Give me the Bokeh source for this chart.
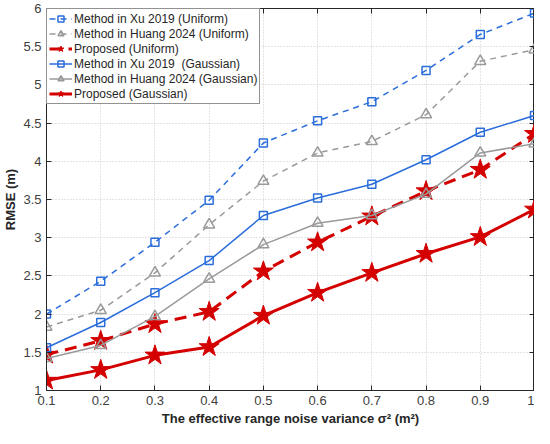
from bokeh.plotting import figure
from bokeh.models import (FixedTicker, LinearAxis, Legend, LegendItem, Range1d)
from bokeh.embed import file_html
from bokeh.resources import INLINE

# ---- data ----
variance = [0.1, 0.2, 0.3, 0.4, 0.5, 0.6, 0.7, 0.8, 0.9, 1.0]
xu_uniform = [2.00, 2.43, 2.94, 3.49, 4.24, 4.53, 4.78, 5.19, 5.66, 5.94]
huang_uniform = [1.83, 2.05, 2.54, 3.17, 3.74, 4.11, 4.26, 4.61, 5.31, 5.46]
prop_uniform = [1.47, 1.65, 1.87, 2.03, 2.56, 2.94, 3.28, 3.61, 3.89, 4.36]
xu_gauss = [1.56, 1.89, 2.28, 2.70, 3.29, 3.52, 3.70, 4.02, 4.38, 4.60]
huang_gauss = [1.42, 1.59, 1.97, 2.46, 2.91, 3.19, 3.29, 3.57, 4.11, 4.23]
prop_gauss = [1.13, 1.27, 1.46, 1.57, 1.98, 2.28, 2.54, 2.79, 3.01, 3.37]

x_ticks = [0.1, 0.2, 0.3, 0.4, 0.5, 0.6, 0.7, 0.8, 0.9, 1.0]
x_tick_labels = ["0.1", "0.2", "0.3", "0.4", "0.5", "0.6", "0.7", "0.8", "0.9", "1"]
y_ticks = [1, 1.5, 2, 2.5, 3, 3.5, 4, 4.5, 5, 5.5, 6]
y_tick_labels = ["1", "1.5", "2", "2.5", "3", "3.5", "4", "4.5", "5", "5.5", "6"]

legend_labels = ["Method in Xu 2019 (Uniform)", "Method in Huang 2024 (Uniform)",
                 "Proposed (Uniform)", "Method in Xu 2019  (Gaussian)",
                 "Method in Huang 2024 (Gaussian)", "Proposed (Gaussian)"]

BLUE = "#2a6ddb"
GRAY = "#9a9a9a"
RED = "#d40000"
TXT = "#262626"
FONT = "Liberation Sans"

p = figure(width=534, height=428, output_backend="svg", toolbar_location=None,
           x_range=Range1d(0.1, 1.0), y_range=Range1d(1, 6),
           min_border_left=0, min_border_right=0, min_border_top=8, min_border_bottom=0)
p.background_fill_color = "white"
p.border_fill_color = "white"
p.outline_line_color = TXT
p.outline_line_width = 1

xtick_over = {t: l for t, l in zip(x_ticks, x_tick_labels)}
ytick_over = {t: l for t, l in zip(y_ticks, y_tick_labels)}

for ax in p.xaxis:
    ax.ticker = FixedTicker(ticks=x_ticks)
    ax.major_label_overrides = xtick_over
for ax in p.yaxis:
    ax.ticker = FixedTicker(ticks=y_ticks)
    ax.major_label_overrides = ytick_over

for ax in list(p.xaxis) + list(p.yaxis):
    ax.major_tick_in = 5
    ax.major_tick_out = 0
    ax.minor_tick_in = 0
    ax.minor_tick_out = 0
    ax.axis_line_color = TXT
    ax.major_tick_line_color = TXT
    ax.major_label_text_font = FONT
    ax.major_label_text_font_size = "13px"
    ax.major_label_text_color = "#404040"
    ax.axis_label_text_font = FONT
    ax.axis_label_text_font_size = "13px"
    ax.axis_label_text_font_style = "bold"
    ax.axis_label_text_color = TXT

p.xaxis.major_label_standoff = 5
p.yaxis.major_label_standoff = 5
p.xaxis.axis_label = "The effective range noise variance \u03c3\u00b2 (m\u00b2)"
p.xaxis.axis_label_standoff = 3
p.yaxis.axis_label = "RMSE (m)"
p.yaxis.axis_label_standoff = 2

# mirrored axes (MATLAB box with inward ticks), no labels
top = LinearAxis(ticker=FixedTicker(ticks=x_ticks),
                 major_label_overrides={t: "" for t in x_ticks},
                 major_tick_in=5, major_tick_out=0, minor_tick_in=0, minor_tick_out=0,
                 axis_line_color=TXT, major_tick_line_color=TXT, major_label_standoff=0,
                 axis_label_standoff=0)
right = LinearAxis(ticker=FixedTicker(ticks=y_ticks),
                   major_label_overrides={t: "" for t in y_ticks},
                   major_tick_in=5, major_tick_out=0, minor_tick_in=0, minor_tick_out=0,
                   axis_line_color=TXT, major_tick_line_color=TXT, major_label_standoff=0,
                   axis_label_standoff=0)
p.add_layout(top, "above")
p.add_layout(right, "right")

p.xgrid.ticker = FixedTicker(ticks=x_ticks)
p.ygrid.ticker = FixedTicker(ticks=y_ticks)
for g in list(p.xgrid) + list(p.ygrid):
    g.grid_line_color = "#c8c8c8"
    g.grid_line_dash = "1 2"
    g.grid_line_width = 1

items = []

def series(y, color, dash, lw, marker, msize, fill, label):
    l = p.line(variance, y, line_color=color, line_dash=dash, line_width=lw)
    s = p.scatter(variance, y, marker=marker, size=msize, line_color=color,
                  fill_color=fill, line_width=1.5 if fill is None else 1)
    items.append(LegendItem(label=label, renderers=[l, s]))

series(xu_uniform, BLUE, "6 5", 1.5, "square", 8, None, legend_labels[0])
series(huang_uniform, GRAY, "6 5", 1.5, "triangle", 11, None, legend_labels[1])
series(prop_uniform, RED, "12 7", 3, "star", 21, RED, legend_labels[2])
series(xu_gauss, BLUE, "solid", 1.5, "square", 8, None, legend_labels[3])
series(huang_gauss, GRAY, "solid", 1.5, "triangle", 11, None, legend_labels[4])
series(prop_gauss, RED, "solid", 3, "star", 21, RED, legend_labels[5])

legend = Legend(items=items, location="top_left")
legend.margin = 0
legend.padding = 2
legend.spacing = 0
legend.glyph_width = 23
legend.glyph_height = 15
legend.label_height = 15
legend.label_standoff = 2
legend.label_text_font = FONT
legend.label_text_font_size = "12px"
legend.label_text_color = TXT
legend.border_line_color = TXT
legend.border_line_width = 1
legend.background_fill_alpha = 1
p.add_layout(legend, "center")

open("out.html", "w").write(file_html(p, INLINE))
